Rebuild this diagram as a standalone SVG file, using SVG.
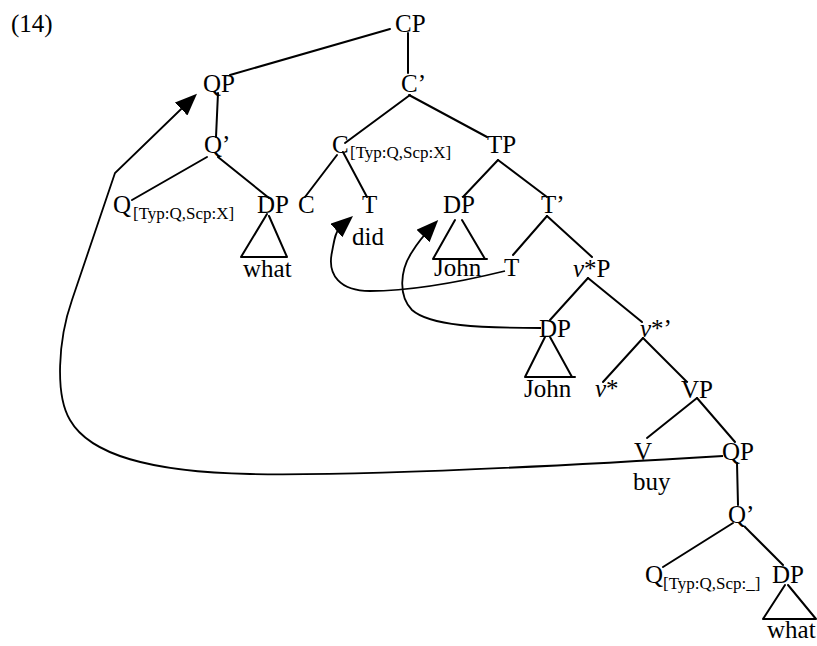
<svg xmlns="http://www.w3.org/2000/svg" width="817" height="646" viewBox="0 0 817 646">
<style>
  text { font-family: "Liberation Serif", "Times New Roman", serif; font-size: 25px; fill: #000; }
  .sub { font-size: 17px; }
  .it { font-style: italic; }
  .edge { stroke: #000; stroke-width: 2; fill: none; stroke-linecap: round; }
  .move { stroke: #000; stroke-width: 1.8; fill: none; marker-end: url(#arr); }
</style>
<defs>
  <marker id="arr" viewBox="0 0 22 18" markerWidth="22" markerHeight="18" refX="13" refY="9" markerUnits="userSpaceOnUse" orient="auto">
    <path d="M0,0 L22,9 L0,18 z" fill="#000"/>
  </marker>
</defs>
<rect width="817" height="646" fill="#fff"/>

<g id="example-number"><text x="11" y="32">(14)</text></g>

<g id="connectors">
  <line class="edge" x1="390" y1="29" x2="230" y2="75"/>
  <line class="edge" x1="408" y1="33" x2="408" y2="73"/>
  <line class="edge" x1="218" y1="93" x2="216" y2="137"/>
  <line class="edge" x1="410" y1="95" x2="345" y2="143"/>
  <line class="edge" x1="409" y1="95" x2="487" y2="137"/>
  <line class="edge" x1="207" y1="157" x2="132" y2="200"/>
  <line class="edge" x1="218" y1="157" x2="269" y2="198"/>
  <line class="edge" x1="337" y1="155" x2="305" y2="197"/>
  <line class="edge" x1="343" y1="152" x2="367" y2="197"/>
  <line class="edge" x1="498" y1="160" x2="463" y2="197"/>
  <line class="edge" x1="498" y1="160" x2="547" y2="197"/>
  <line class="edge" x1="547" y1="216" x2="513" y2="255"/>
  <line class="edge" x1="547" y1="216" x2="592" y2="257"/>
  <line class="edge" x1="588" y1="278" x2="550" y2="320"/>
  <line class="edge" x1="588" y1="278" x2="642" y2="322"/>
  <line class="edge" x1="643" y1="338" x2="603" y2="382"/>
  <line class="edge" x1="643" y1="338" x2="687" y2="382"/>
  <line class="edge" x1="697" y1="398" x2="647" y2="438"/>
  <line class="edge" x1="697" y1="398" x2="735" y2="442"/>
  <line class="edge" x1="737" y1="463" x2="738" y2="505"/>
  <line class="edge" x1="733" y1="523" x2="663" y2="567"/>
  <line class="edge" x1="745" y1="527" x2="783" y2="565"/>
  <!-- triangles -->
  <path class="edge" d="M241,257 L267,214 M269,216 L287,257 M241,257 L287,257"/>
  <path class="edge" d="M433,259 L455,220 M462,220 L485,259 M433,259 L487,259"/>
  <path class="edge" d="M525,377 L545,337 M550,337 L572,377 M525,377 L575,377"/>
  <path class="edge" d="M763,619 L785,585 M788,585 L816,619 M763,619 L816,619"/>
  <!-- movement arrows -->
  <path class="move" d="M723,456 C560,466 360,476 250,474 C150,472 90,455 70,420 C55,395 58,340 72,300 L115,173 L190.5,100"/>
  <path class="move" d="M505,271 C460,282 410,291 370,291 C340,291 327,275 332,252 C334,242 335,232 340,227.4 L346.2,222"/>
  <path class="move" d="M541,328 C480,328 430,326 412,310 C398,296 400,270 412,252 C418,242 424,235 432,226.6"/>
</g>

<g id="CP"><text x="395" y="32">CP</text></g>
<g id="QP-top"><text x="203" y="92">QP</text></g>
<g id="Cbar"><text x="401" y="92">C’</text></g>
<g id="Qbar-top"><text x="204" y="153">Q’</text></g>
<g id="C-head"><text x="332" y="153">C</text><text class="sub" x="350" y="158">[Typ:Q,Scp:X]</text></g>
<g id="TP"><text x="487" y="153">TP</text></g>
<g id="Q-head-top"><text x="113" y="213">Q</text><text class="sub" x="133" y="219">[Typ:Q,Scp:X]</text></g>
<g id="DP-what-top"><text x="257" y="213">DP</text><text x="243" y="277">what</text></g>
<g id="C-low"><text x="298" y="213">C</text></g>
<g id="T-did"><text x="362" y="213">T</text><text x="352" y="245">did</text></g>
<g id="DP-John-top"><text x="443" y="213">DP</text><text x="434" y="276">John</text></g>
<g id="Tbar"><text x="541" y="213">T’</text></g>
<g id="T-low"><text x="504" y="276">T</text></g>
<g id="vP"><text x="573" y="277"><tspan class="it">v</tspan>*P</text></g>
<g id="DP-John-low"><text x="539" y="337">DP</text><text x="524" y="397">John</text></g>
<g id="vbar"><text x="640" y="337"><tspan class="it">v</tspan>*’</text></g>
<g id="v-head"><text x="595" y="397"><tspan class="it">v</tspan>*</text></g>
<g id="VP"><text x="681" y="398">VP</text></g>
<g id="V-buy"><text x="634" y="460">V</text><text x="633" y="490">buy</text></g>
<g id="QP-low"><text x="722" y="460">QP</text></g>
<g id="Qbar-low"><text x="728" y="523">Q’</text></g>
<g id="Q-head-low"><text x="645" y="583">Q</text><text class="sub" x="663" y="589">[Typ:Q,Scp:_]</text></g>
<g id="DP-what-low"><text x="772" y="583">DP</text><text x="767" y="638">what</text></g>
</svg>
